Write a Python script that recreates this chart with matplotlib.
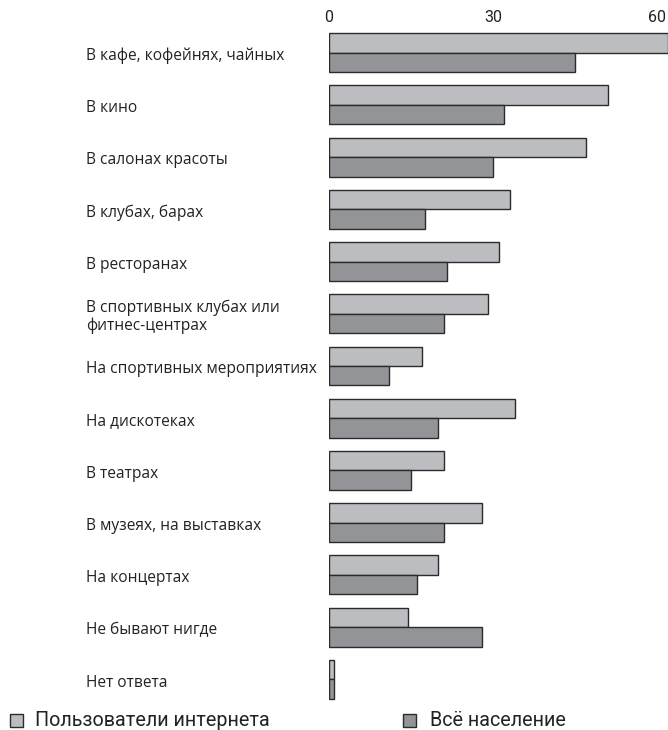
import numpy as np
import matplotlib.pyplot as plt
from matplotlib.transforms import blended_transform_factory
from matplotlib.patches import Rectangle

categories = [
    "В кафе, кофейнях, чайных",
    "В кино",
    "В салонах красоты",
    "В клубах, барах",
    "В ресторанах",
    "В спортивных клубах или\nфитнес-центрах",
    "На спортивных мероприятиях",
    "На дискотеках",
    "В театрах",
    "В музеях, на выставках",
    "На концертах",
    "Не бывают нигде",
    "Нет ответа",
]
internet_users = [62, 51, 47, 33, 31, 29, 17, 34, 21, 28, 20, 14.5, 1]
all_population = [45, 32, 30, 17.5, 21.5, 21, 11, 20, 15, 21, 16, 28, 1]
ticks = [0, 30, 60]
series_names = ["Пользователи интернета", "Всё население"]

light = "#bcbdc0"
dark = "#939497"
edge = "#2b2b2b"

plt.rcParams['font.family'] = ['Open Sans', 'DejaVu Sans']

fig = plt.figure(figsize=(6.68, 7.30), dpi=100)
ax = fig.add_axes([329 / 668, 1 - 705.6 / 730, 1 - 329 / 668, (705.6 - 26.4) / 730])

y = np.arange(len(categories))
h = 0.373
ax.barh(y - h / 2, internet_users, height=h, color=light, edgecolor=edge, linewidth=1.0)
ax.barh(y + h / 2, all_population, height=h, color=dark, edgecolor=edge, linewidth=1.0)

ax.set_xlim(0, (668 - 329) / 5.47)
ax.set_ylim(len(categories) - 0.5, -0.5)
ax.xaxis.tick_top()
ax.set_xticks(ticks)
ax.set_xticklabels([str(t) for t in ticks], fontsize=11.5, color="#222222",
                   family=['Roboto', 'DejaVu Sans'])
ax.tick_params(axis="x", length=0, pad=1)
ax.set_yticks([])
for s in ax.spines.values():
    s.set_visible(False)

trans = blended_transform_factory(fig.transFigure, ax.transData)
for i, lab in enumerate(categories):
    ax.text(86 / 668, i + 0.06, lab, transform=trans, ha="left", va="center",
            fontsize=11.2, color="#222222", linespacing=1.15)

# legend at bottom
for xs, xt, name, col in [(10, 35, series_names[0], light), (403, 430, series_names[1], dark)]:
    fig.patches.append(Rectangle((xs / 668, 1 - 727 / 730), 13 / 668, 13 / 730,
                                 transform=fig.transFigure, facecolor=col,
                                 edgecolor=edge, linewidth=1.0))
    fig.text(xt / 668, 1 - 720 / 730, name, ha="left", va="center", fontsize=14.2,
             color="#222222", family=['Roboto', 'DejaVu Sans'])

fig.savefig("out.png", dpi=100)
